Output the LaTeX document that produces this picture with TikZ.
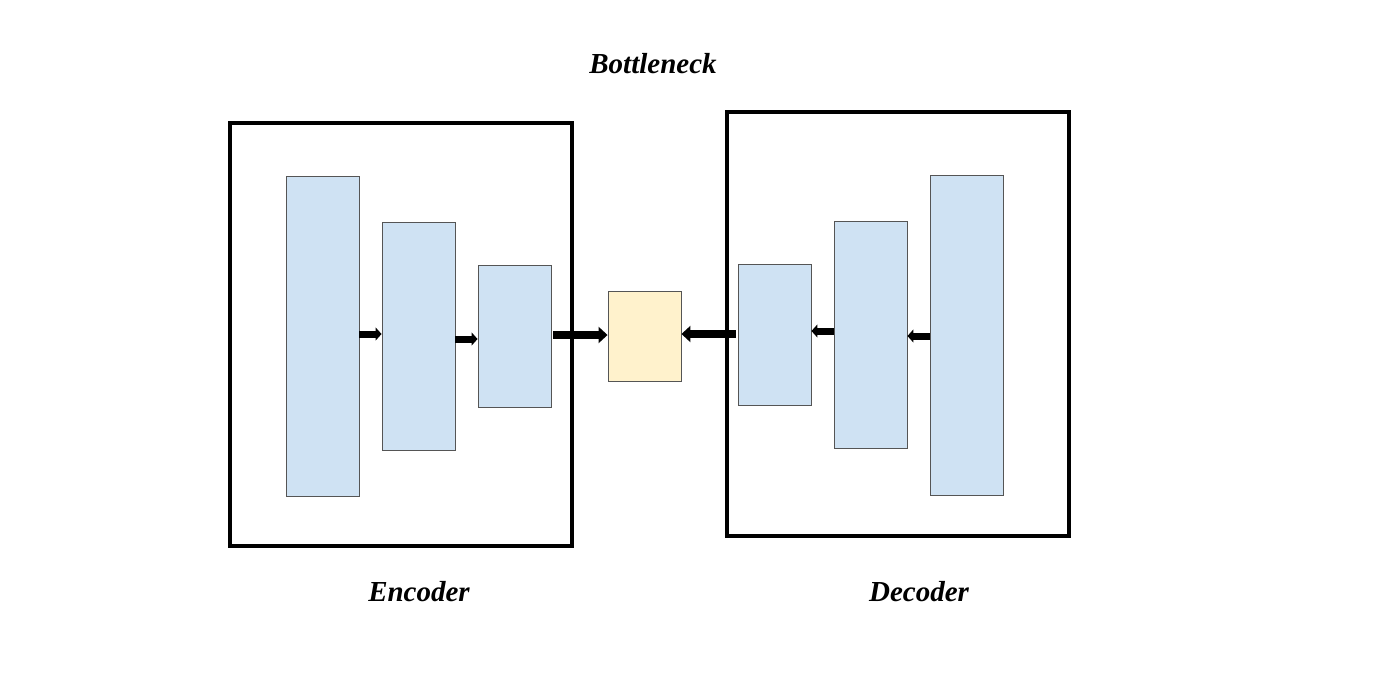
\documentclass[tikz,border=0pt]{standalone}
\usepackage{fontspec}
\setmainfont{Liberation Serif}
\usetikzlibrary{arrows.meta}
\definecolor{blk}{HTML}{CFE2F3}
\definecolor{bot}{HTML}{FFF2CC}
\definecolor{edge}{HTML}{555555}
\begin{document}
\begin{tikzpicture}[x=1pt,y=-1pt,
  frame/.style={draw=black,line width=3.2pt},
  layer/.style={draw=edge,fill=blk,line width=0.9pt},
  bneck/.style={draw=edge,fill=bot,line width=0.9pt},
  lab/.style={font=\bfseries\itshape\fontsize{29}{30}\selectfont},
  small/.style={line width=7pt,-{Triangle[length=6pt,width=13pt]}},
  big/.style={line width=8pt,-{Triangle[length=9pt,width=16pt]}}]
\useasboundingbox (0,0) rectangle (1400,672);
\fill[white] (0,0) rectangle (1400,672);
% frames
\draw[frame] (230,123) rectangle (572,546);
\draw[frame] (727,112) rectangle (1069,536);
% encoder layers
\node[layer,minimum width=73pt,minimum height=320pt,inner sep=0pt] (e1) at (322.5,336) {};
\node[layer,minimum width=73pt,minimum height=228pt,inner sep=0pt] (e2) at (418.5,336) {};
\node[layer,minimum width=73pt,minimum height=142pt,inner sep=0pt] (e3) at (514.5,336) {};
% bottleneck
\node[bneck,minimum width=73pt,minimum height=90pt,inner sep=0pt] (b) at (644.5,336) {};
% decoder layers
\node[layer,minimum width=73pt,minimum height=141pt,inner sep=0pt] (d1) at (774.5,334.5) {};
\node[layer,minimum width=73pt,minimum height=227pt,inner sep=0pt] (d2) at (870.5,334.5) {};
\node[layer,minimum width=73pt,minimum height=320pt,inner sep=0pt] (d3) at (966.5,335) {};
% arrows
\draw[small] (e1.east|-0,334) -- (e2.west|-0,334);
\draw[small] (e2.east|-0,339) -- (e3.west|-0,339);
\draw[big] (e3.east|-0,335) ++(2,0) -- (b.west|-0,335);
\draw[big] (d1.west|-0,334) ++(-2,0) -- (b.east|-0,334);
\draw[small] (d2.west|-0,331) -- (d1.east|-0,331);
\draw[small] (d3.west|-0,336) -- (d2.east|-0,336);
% labels
\node[lab] (lb) at (653,64) {Bottleneck};
\node[lab] (le) at (419,592) {Encoder};
\node[lab] (ld) at (919,592) {Decoder};
\end{tikzpicture}
\end{document}
